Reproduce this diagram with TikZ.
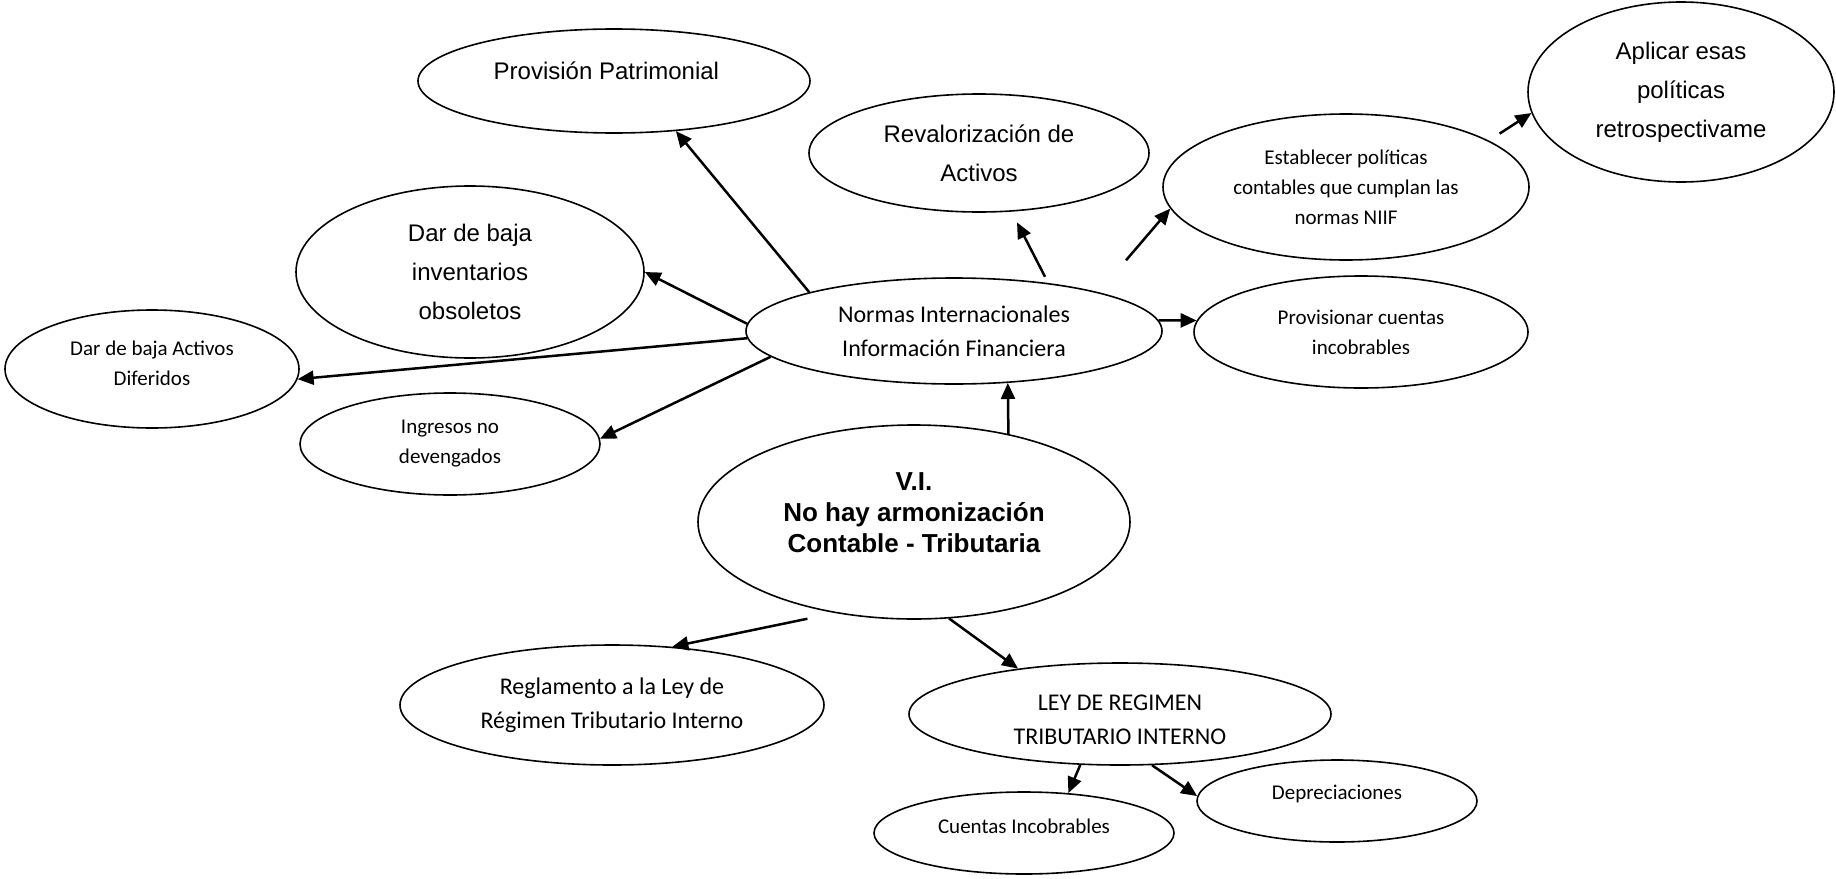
\documentclass[tikz,border=0pt]{standalone}
\usepackage{fontspec}
\setmainfont{Carlito}
\newfontfamily\arialfont{Liberation Sans}
\usetikzlibrary{shapes.geometric,arrows.meta}

% extra depth / height to move the text inside a bubble
\newcommand\liftup[1]{\rule[-#1]{0pt}{#1}}
\newcommand\pushdown[1]{\rule{0pt}{#1}}

\begin{document}
\begin{tikzpicture}[x=0.5pt,y=-0.5pt,
                     bubble/.style={
                                % The shape:
                                ellipse,inner sep=0pt,
                                % The rest
                                draw=black,line width=0.8pt,align=center},
                     small/.style={font=\fontsize{10.5}{15}\selectfont},
                     normal/.style={font=\fontsize{12}{17}\selectfont},
                     arial/.style={font=\arialfont\fontsize{12}{19.5}\selectfont},
                     link/.style={line width=1.25pt,-{Triangle[length=8pt,width=7pt]}}]
 \useasboundingbox (0,0) rectangle (1836,878);
 % centre
 \node (normas)  [bubble,normal,minimum width=208pt,minimum height=53pt] at (954,331)
                 {Normas Internacionales\\Información Financiera};
 \node (vi)      [bubble,minimum width=216pt,minimum height=97pt,
                  font=\arialfont\bfseries\fontsize{13}{15.5}\selectfont] at (914,522)
                 {V.I.\\No hay armonización\\Contable - Tributaria\liftup{9pt}};
 % upper ring
 \node (prov)    [bubble,minimum width=196pt,minimum height=52pt,
                  label={[arial,xshift=-3.8pt,yshift=5pt]center:Provisión Patrimonial}] at (614,81) {};
 \node (reval)   [bubble,arial,minimum width=170pt,minimum height=59pt] at (979,153)
                 {Revalorización de\\Activos};
 \node (estab)   [bubble,small,minimum width=183pt,minimum height=73pt] at (1346,187)
                 {Establecer políticas\\contables que cumplan las\\normas NIIF};
 \node (aplic)   [bubble,arial,minimum width=153pt,minimum height=90pt] at (1681,92)
                 {Aplicar esas\\políticas\\retrospectivame};
 \node (invent)  [bubble,arial,minimum width=174pt,minimum height=86pt] at (470,272)
                 {Dar de baja\\inventarios\\obsoletos};
 \node (provis)  [bubble,small,minimum width=167pt,minimum height=56pt] at (1361,332)
                 {Provisionar cuentas\\incobrables};
 \node (difer)   [bubble,small,minimum width=147pt,minimum height=59pt] at (152,369)
                 {Dar de baja Activos\\Diferidos\liftup{6pt}};
 \node (ingr)    [bubble,small,minimum width=150pt,minimum height=51pt] at (450,444)
                 {Ingresos no\\devengados};
 % lower part
 \node (regl)    [bubble,normal,minimum width=212pt,minimum height=60pt] at (612,705)
                 {Reglamento a la Ley de\\Régimen Tributario Interno};
 \node (ley)     [bubble,normal,minimum width=211pt,minimum height=51pt] at (1120,714)
                 {\pushdown{14pt}LEY DE REGIMEN\\TRIBUTARIO INTERNO};
 \node (cuentas) [bubble,small,minimum width=150pt,minimum height=41pt] at (1024,833)
                 {Cuentas Incobrables\liftup{7pt}};
 \node (depre)   [bubble,small,minimum width=140pt,minimum height=41pt] at (1337,801)
                 {Depreciaciones\liftup{9pt}};

 \draw [link] (normas.165) -- (prov.-39);
 \draw [link,shorten <=3.5pt,shorten >=6pt] (normas.27) -- (reval.-61);
 \draw [link,shorten <=21pt] (normas.15) -- (estab.187);
 \draw [link,shorten <=6.4pt] (estab.18) -- (aplic.188);
 \draw [link] (normas.178) -- (invent.0);
 \draw [link] (normas.182) -- (difer.-4);
 \draw [link] (normas.188) -- (ingr.2);
 \draw [link] (normas.3) -- (provis.176);
 \draw [link] (vi.43) -- (normas.-44);
 \draw [link,shorten <=14pt] (vi.229) -- (regl.44);
 \draw [link] (vi.-70) -- (ley.156);
 \draw [link] (ley.232) -- (cuentas.42);
 \draw [link] (ley.-58) -- (depre.178);
\end{tikzpicture}
\end{document}
